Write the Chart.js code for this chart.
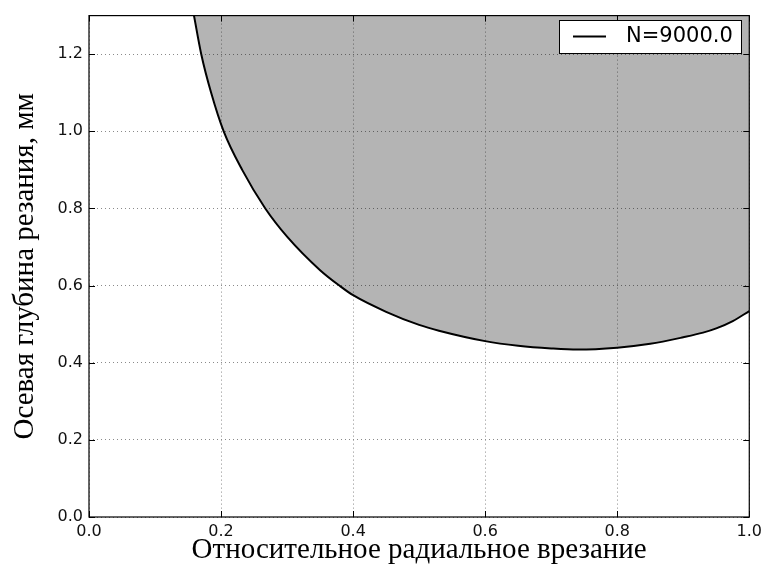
<!DOCTYPE html>
<html lang="ru">
<head>
<meta charset="UTF-8">
<title>Осевая глубина резания</title>
<style>
    html, body { margin: 0; padding: 0; background: #fff; }
    #wrap { width: 767px; height: 569px; }
</style>
</head>
<body>
<div id="wrap"><canvas id="chart"></canvas></div>
<script src="https://cdn.jsdelivr.net/npm/chart.js"></script>
<script>
// stability boundary
const seriesLabel = 'N=9000.0';
const radialEngagement = [0.159, 0.170, 0.185, 0.204, 0.232, 0.267, 0.300, 0.350, 0.380, 0.40, 0.45, 0.50, 0.53,
    0.60, 0.65, 0.70, 0.74, 0.80, 0.85, 0.90, 0.93, 0.95, 0.975, 1.00];
const axialDepth = [1.30, 1.20, 1.10, 1.00, 0.90, 0.80, 0.727, 0.640, 0.599, 0.575, 0.532, 0.498, 0.483,
    0.456, 0.444, 0.437, 0.434, 0.439, 0.449, 0.466, 0.478, 0.489, 0.508, 0.534];
const xTicks = [0.0, 0.2, 0.4, 0.6, 0.8, 1.0];
const yTicks = [0.0, 0.2, 0.4, 0.6, 0.8, 1.0, 1.2];

const tickFont = { family: 'DejaVu Sans', size: 16 };
const titleFont = { family: 'Liberation Serif', size: 29 };

// frame, inward ticks and legend box (matplotlib look)
const framePlugin = {
    id: 'frame',
    afterDraw(chart) {
        const ctx = chart.ctx;
        const a = chart.chartArea;
        const x = chart.scales.x, y = chart.scales.y;
        ctx.save();
        ctx.strokeStyle = '#000';
        ctx.lineWidth = 1.2;
        ctx.strokeRect(a.left, a.top, a.right - a.left, a.bottom - a.top);
        ctx.lineWidth = 1;
        ctx.beginPath();
        x.ticks.forEach(t => {
            const px = Math.round(x.getPixelForValue(t.value)) + 0.5;
            ctx.moveTo(px, a.bottom); ctx.lineTo(px, a.bottom - 6);
            ctx.moveTo(px, a.top); ctx.lineTo(px, a.top + 6);
        });
        y.ticks.forEach(t => {
            const py = Math.round(y.getPixelForValue(t.value)) + 0.5;
            ctx.moveTo(a.left, py); ctx.lineTo(a.left + 6, py);
            ctx.moveTo(a.right, py); ctx.lineTo(a.right - 6, py);
        });
        ctx.stroke();

        // legend
        const ds = chart.data.datasets[0];
        const bx = 559, by = 20, bw = 182, bh = 33;
        ctx.fillStyle = '#fff';
        ctx.fillRect(bx, by, bw, bh);
        ctx.strokeStyle = '#000';
        ctx.lineWidth = 1;
        ctx.strokeRect(bx + 0.5, by + 0.5, bw, bh);
        ctx.lineWidth = 2;
        ctx.beginPath();
        ctx.moveTo(bx + 14, by + 16.5);
        ctx.lineTo(bx + 47, by + 16.5);
        ctx.stroke();
        ctx.fillStyle = '#000';
        ctx.font = '21px "DejaVu Sans"';
        ctx.textBaseline = 'middle';
        ctx.fillText(ds.label, bx + 67, by + 17);
        ctx.restore();
    }
};

new Chart(document.getElementById('chart'), {
    type: 'line',
    data: {
        datasets: [{
            label: seriesLabel,
            data: radialEngagement.map((v, i) => ({ x: v, y: axialDepth[i] })),
            borderColor: '#000',
            borderWidth: 2,
            backgroundColor: 'rgba(0,0,0,0.294)',
            fill: 'end',
            pointRadius: 0,
            cubicInterpolationMode: 'monotone'
        }]
    },
    options: {
        responsive: true,
        maintainAspectRatio: false,
        animation: false,
        layout: { padding: { top: 9, right: 16, left: 0, bottom: 0 } },
        plugins: {
            legend: { display: false },
            tooltip: { enabled: false }
        },
        scales: {
            x: {
                type: 'linear',
                min: 0, max: 1.0,
                afterFit: s => { s.height = 52; },
                afterBuildTicks: s => { s.ticks = xTicks.map(v => ({ value: v })); },
                grid: { color: '#8a8a8a', lineWidth: 1, drawTicks: false },
                border: { display: false, dash: [1, 3] },
                ticks: { font: tickFont, color: '#111', padding: 5, maxRotation: 0,
                    callback: v => v.toFixed(1) },
                title: { display: true, text: 'Относительное радиальное врезание',
                    font: titleFont, color: '#000', padding: { top: 0, bottom: 1 } }
            },
            y: {
                type: 'linear',
                min: 0, max: 1.3,
                afterFit: s => { s.width = 89; },
                afterBuildTicks: s => { s.ticks = yTicks.map(v => ({ value: v })); },
                grid: { color: '#8a8a8a', lineWidth: 1, drawTicks: false },
                border: { display: false, dash: [1, 3] },
                ticks: { font: tickFont, color: '#111', padding: 6,
                    callback: v => v.toFixed(1) },
                title: { display: true, text: 'Осевая глубина резания, мм',
                    font: titleFont, color: '#000', padding: { top: 8, bottom: 0 } }
            }
        }
    },
    plugins: [framePlugin]
});
</script>
</body>
</html>
